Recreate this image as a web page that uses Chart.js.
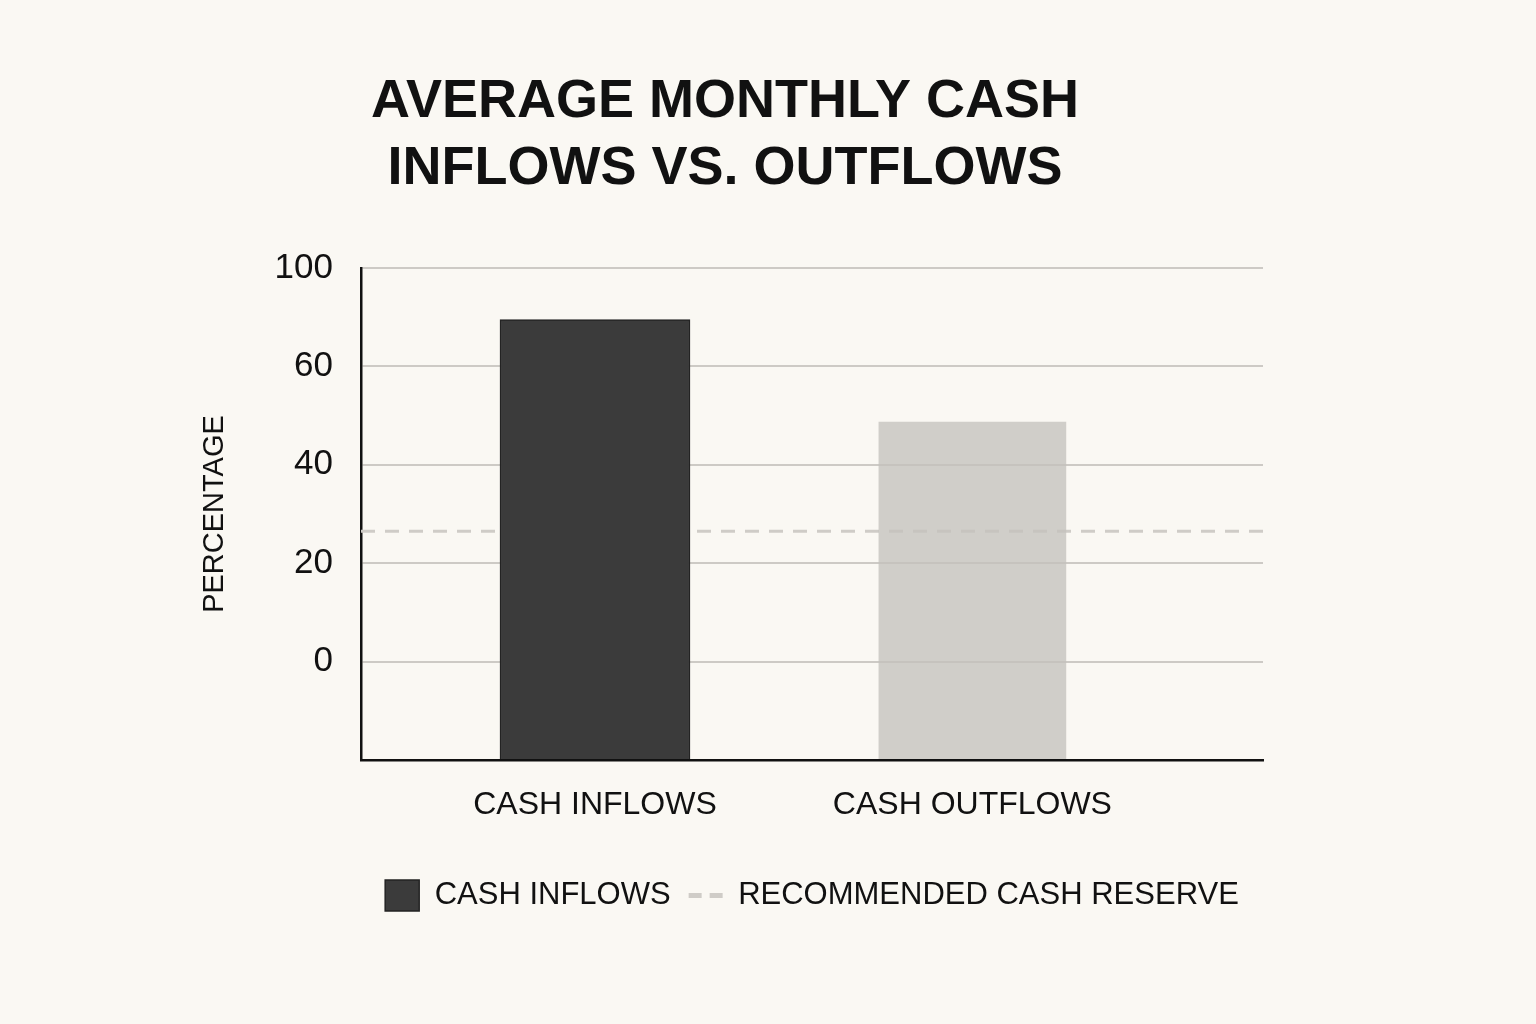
<!DOCTYPE html>
<html>
<head>
<meta charset="utf-8">
<title>Average Monthly Cash Inflows vs. Outflows</title>
<script src="https://cdn.jsdelivr.net/npm/chart.js@4.4.1/dist/chart.umd.min.js"></script>
<style>
  html, body { margin: 0; padding: 0; background: #faf8f3; }
  #cashChart { display: block; }
</style>
</head>
<body>
<canvas id="cashChart" width="1536" height="1024"></canvas>
<script>
// values
var categories = ['CASH INFLOWS', 'CASH OUTFLOWS'];
var cashValues = [69.5, 49];
var reserveLevel = 26.5;
var yTickLabels = ['0', '20', '40', '60', '100'];

// axis ranges
var yMin = -20, yMax = 80, yStep = 20;
var xMin = 0.38, xMax = 2.77;

var font = "'Liberation Sans', Arial, sans-serif";
var ink = '#111111';

var bars = {
  type: 'bar',
  label: 'CASH INFLOWS',
  data: cashValues.map(function (v, i) { return { x: i + 1, y: v }; }),
  backgroundColor: ['#3b3b3b', 'rgba(196,193,188,0.78)'],
  borderColor: ['#232323', 'rgba(196,193,188,0.0)'],
  borderWidth: 1.5,
  barThickness: 190,
  base: yMin,
  pointStyle: 'rect',
  order: 1
};

var reserve = {
  type: 'line',
  label: 'RECOMMENDED CASH RESERVE',
  data: [{ x: xMin, y: reserveLevel }, { x: xMax, y: reserveLevel }],
  borderColor: '#cfccc7',
  borderWidth: 3,
  borderDash: [14, 10],
  pointRadius: 0,
  pointStyle: 'line',
  fill: false,
  order: 2
};

// default legend items, but keep the dash and width of the line dataset
function legendItems(chart) {
  var items = Chart.defaults.plugins.legend.labels.generateLabels(chart);
  items.forEach(function (item) {
    var ds = chart.data.datasets[item.datasetIndex];
    if (ds.type === 'line') {
      item.lineDash = [13, 8];
      item.lineWidth = 5;
      item.strokeStyle = ds.borderColor;
    }
  });
  return items;
}

var config = {
  type: 'bar',
  data: { datasets: [bars, reserve] },
  options: {
    responsive: false,
    animation: false,
    layout: { padding: { left: 187, right: 273, top: 20, bottom: 103 } },
    plugins: {
      tooltip: { enabled: false },
      title: {
        display: true,
        text: ['AVERAGE MONTHLY CASH', 'INFLOWS VS. OUTFLOWS'],
        color: ink,
        font: { family: font, size: 54, weight: 'bold', lineHeight: 1.25 },
        padding: { top: 48, bottom: 65 }
      },
      legend: {
        position: 'bottom',
        fullSize: false,
        labels: {
          usePointStyle: true,
          pointStyleWidth: 34,
          boxHeight: 31,
          padding: 18,
          color: ink,
          font: { family: font, size: 31 },
          generateLabels: legendItems
        }
      }
    },
    scales: {
      x: {
        type: 'linear',
        min: xMin,
        max: xMax,
        offset: false,
        afterBuildTicks: function (scale) {
          scale.ticks = categories.map(function (c, i) { return { value: i + 1 }; });
        },
        afterFit: function (scale) { scale.height = 102; },
        ticks: {
          color: ink,
          padding: 26,
          maxRotation: 0,
          autoSkip: false,
          font: { family: font, size: 32, lineHeight: 1.2 },
          callback: function (value) { return categories[value - 1] || ''; }
        },
        grid: { display: false, drawTicks: false },
        border: { display: true, color: ink, width: 2.5 }
      },
      y: {
        min: yMin,
        max: yMax,
        afterFit: function (scale) { scale.width = 174; },
        ticks: {
          stepSize: yStep,
          color: ink,
          padding: 28,
          font: { family: font, size: 35 },
          callback: function (value) {
            var i = Math.round(value / yStep);
            return i >= 0 ? (yTickLabels[i] || '') : '';
          }
        },
        grid: { color: '#cdcac5', lineWidth: 2, drawTicks: false },
        border: { display: true, color: ink, width: 2.5 },
        title: {
          display: true,
          text: 'PERCENTAGE',
          color: ink,
          font: { family: font, size: 29 },
          padding: { top: 11, bottom: 0 }
        }
      }
    }
  }
};

var chart = new Chart(document.getElementById('cashChart'), config);
</script>
</body>
</html>
